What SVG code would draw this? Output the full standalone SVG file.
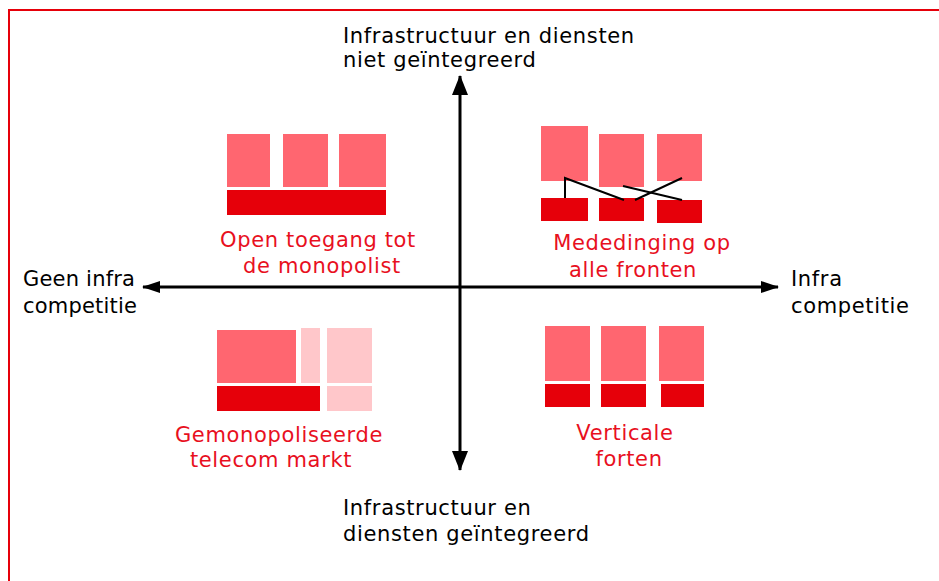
<svg xmlns="http://www.w3.org/2000/svg" width="939" height="581" viewBox="0 0 939 581">
<style>
text{font-family:"DejaVu Sans","Liberation Sans",sans-serif;font-size:21px;letter-spacing:0.65px}
.k{fill:#000}
.s{letter-spacing:0.2px}
.r{fill:#E8101E;text-anchor:middle}
.p{fill:#FF6670}
.d{fill:#E6000A}
.l{fill:#FFC7CA}
.ax{stroke:#000;stroke-width:3;fill:none}
.ln{stroke:#000;stroke-width:2;fill:none}
</style>
<defs>
<marker id="av" viewBox="0 0 20 16" refX="19" refY="8" markerWidth="20" markerHeight="16" markerUnits="userSpaceOnUse" orient="auto">
<path d="M0,0 L20,8 L0,16 z" fill="#000"/>
</marker>
<marker id="ah" viewBox="0 0 18 12" refX="17" refY="6" markerWidth="18" markerHeight="12" markerUnits="userSpaceOnUse" orient="auto">
<path d="M0,0 L18,6 L0,12 z" fill="#000"/>
</marker>
</defs>
<rect x="9" y="10" width="940" height="600" fill="#fff" stroke="#E6000A" stroke-width="2"/>
<g id="connectors">
<line class="ax" x1="460" y1="288" x2="460" y2="76" marker-end="url(#av)"/>
<line class="ax" x1="460" y1="288" x2="460" y2="470" marker-end="url(#av)"/>
<line class="ax" x1="460" y1="287" x2="143" y2="287" marker-end="url(#ah)"/>
<line class="ax" x1="460" y1="287" x2="778" y2="287" marker-end="url(#ah)"/>
</g>
<g id="label-top">
<text class="k" x="343" y="43">Infrastructuur en diensten</text>
<text class="k" x="343" y="67">niet geïntegreerd</text>
</g>
<g id="label-bottom">
<text class="k" x="343" y="515">Infrastructuur en</text>
<text class="k" x="343" y="541">diensten geïntegreerd</text>
</g>
<g id="label-left">
<text class="k s" x="23" y="286">Geen infra</text>
<text class="k s" x="23" y="313">competitie</text>
</g>
<g id="label-right">
<text class="k" x="791" y="286">Infra</text>
<text class="k" x="791" y="313">competitie</text>
</g>
<g id="q-open">
<rect class="p" x="227" y="134" width="43" height="53"/>
<rect class="p" x="283" y="134" width="45" height="53"/>
<rect class="p" x="339" y="134" width="47" height="53"/>
<rect class="d" x="227" y="190" width="159" height="25"/>
<text class="r" x="318" y="247">Open toegang tot</text>
<text class="r" x="322" y="273">de monopolist</text>
</g>
<g id="q-mededinging">
<rect class="p" x="541" y="126" width="47" height="55"/>
<rect class="p" x="599" y="134" width="45" height="53"/>
<rect class="p" x="657" y="134" width="45" height="47"/>
<rect class="d" x="541" y="198" width="47" height="23"/>
<rect class="d" x="599" y="198" width="45" height="23"/>
<rect class="d" x="657" y="200" width="45" height="23"/>
<polyline class="ln" points="565,198 565,178 624,200"/>
<line class="ln" x1="623" y1="186" x2="682" y2="200"/>
<line class="ln" x1="635" y1="200" x2="682" y2="178"/>
<text class="r" x="642" y="250">Mededinging op</text>
<text class="r" x="633" y="277">alle fronten</text>
</g>
<g id="q-gemonopoliseerd">
<rect class="p" x="217" y="330" width="79" height="53"/>
<rect class="l" x="301" y="328" width="19" height="55"/>
<rect class="l" x="327" y="328" width="45" height="55"/>
<rect class="d" x="217" y="386" width="103" height="25"/>
<rect class="l" x="327" y="386" width="45" height="25"/>
<text class="r" x="279" y="442">Gemonopoliseerde</text>
<text class="r" x="271" y="467">telecom markt</text>
</g>
<g id="q-verticaal">
<rect class="p" x="545" y="326" width="45" height="55"/>
<rect class="p" x="601" y="326" width="45" height="55"/>
<rect class="p" x="659" y="326" width="45" height="55"/>
<rect class="d" x="545" y="384" width="45" height="23"/>
<rect class="d" x="601" y="384" width="45" height="23"/>
<rect class="d" x="661" y="384" width="43" height="23"/>
<text class="r" x="625" y="440">Verticale</text>
<text class="r" x="629" y="466">forten</text>
</g>
</svg>
